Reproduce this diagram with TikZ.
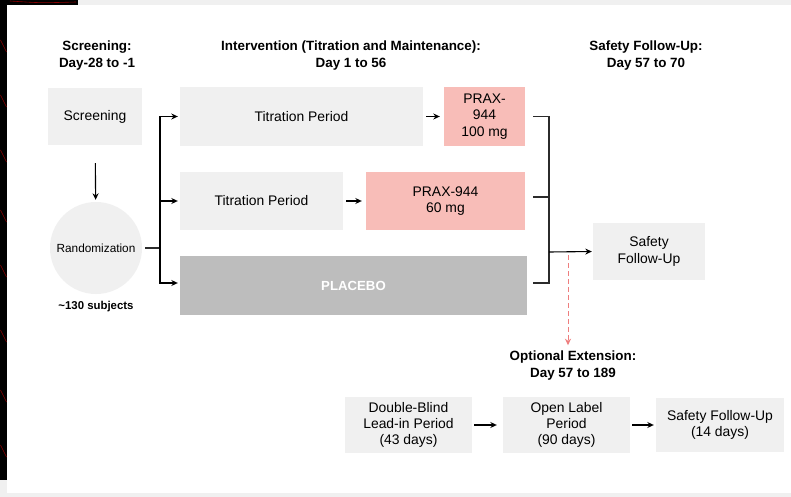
\documentclass[tikz,border=0pt]{standalone}
\usepackage{fontspec}
\setmainfont{Liberation Sans}
\usepackage{tikz}
\usetikzlibrary{arrows.meta, positioning, calc}
\definecolor{boxGray}{HTML}{F0F0F0}
\definecolor{doseRed}{HTML}{F8BDB8}
\definecolor{placeboGray}{HTML}{BDBDBD}
\definecolor{extRed}{HTML}{EE7E7E}
\definecolor{lineDark}{HTML}{2B2B2B}

\begin{document}
\begin{tikzpicture}[x=1pt, y=-1pt,
  every node/.style={text=black, font=\fontsize{13.9}{16.3}\selectfont},
  arr/.style={->, >={Stealth[length=6.5pt, width=6pt]}, line width=1.1pt, draw=black},
  ln/.style={line width=1.1pt, draw=lineDark},
  dasharr/.style={->, >={Stealth[length=6.5pt, width=6pt]}, line width=1pt,
                  draw=extRed, dash pattern=on 5pt off 3pt},
  phasebox/.style={fill=boxGray, inner sep=2pt, align=center},
  dosebox/.style={fill=doseRed, inner sep=2pt, align=center},
  header/.style={font=\fontsize{13.4}{17}\selectfont\bfseries, align=center}]

  \useasboundingbox (0,0) rectangle (791,497);

  %% ═══════════════════════════════════════════════════════════════
  %% FRAME (screenshot border)
  %% ═══════════════════════════════════════════════════════════════

  \fill[black!6] (0,0) rectangle (791,497);
  \fill[white] (7,5) rectangle (791,493);
  \fill[black] (0,0) rectangle (7,480);
  \fill[black] (0,0) rectangle (78,5);
  \foreach \yy in {40,95,150,210,265,330,390,445}
    \draw[red!55!black, line width=0.6pt] (0.5,\yy) .. controls (3,\yy+6) .. (6.5,\yy+12);
  \draw[red!55!black, line width=0.6pt] (10,1) .. controls (40,3) .. (76,2);

  %% ═══════════════════════════════════════════════════════════════
  %% COLUMN HEADERS
  %% ═══════════════════════════════════════════════════════════════

  \node[header] (hdscr) at (97,55.5) {Screening:\\Day-28 to -1};
  \node[header] (hdint) at (351,55.5) {Intervention (Titration and Maintenance):\\Day 1 to 56};
  \node[header] (hdsfu) at (646,55.5) {Safety Follow-Up:\\Day 57 to 70};

  %% ═══════════════════════════════════════════════════════════════
  %% SCREENING + RANDOMIZATION
  %% ═══════════════════════════════════════════════════════════════

  \node[phasebox, minimum width=94pt, minimum height=57pt] (scrn) at (95,116.5) {Screening};
  \node[circle, fill=boxGray, minimum size=92pt, inner sep=0pt,
        font=\fontsize{11.8}{14}\selectfont] (rand) at (96,248) {Randomization};
  \node[font=\fontsize{11.4}{13}\selectfont\bfseries, below=4pt of rand] (subj) {\textasciitilde130 subjects};

  \draw[arr, shorten <=18pt, shorten >=2pt] (scrn) -- (rand);

  %% ═══════════════════════════════════════════════════════════════
  %% TREATMENT ARMS
  %% ═══════════════════════════════════════════════════════════════

  \node[phasebox, minimum width=243pt, minimum height=59pt] (tit1) at (301.5,116.5) {Titration Period};
  \node[dosebox, minimum width=81pt, minimum height=59pt] (prax1) at (484.5,116.5) {PRAX-\\944\\100 mg};

  \node[phasebox, minimum width=163pt, minimum height=58pt] (tit2) at (261.5,201) {Titration Period};
  \node[dosebox, minimum width=159pt, minimum height=58pt] (prax2) at (445.5,201) {PRAX-944\\60 mg};

  \node[fill=placeboGray, minimum width=347pt, minimum height=59pt,
        text=white, font=\fontsize{13.2}{15}\selectfont\bfseries] (plac) at (353.5,285.5) {PLACEBO};

  \coordinate (split) at (160,248);
  \draw[ln, shorten <=3pt] (rand) -- (split);
  \draw[arr, shorten >=2pt] (split) |- (tit1.west);
  \draw[arr, shorten >=2pt] (split) |- (tit2.west);
  \draw[arr, shorten >=2pt] (split) |- ([yshift=2.5pt]plac.west);

  \draw[arr, shorten <=3pt, shorten >=4pt] (tit1) -- (prax1);
  \draw[arr, shorten <=3pt, shorten >=4pt] (tit2) -- (prax2);

  %% ═══════════════════════════════════════════════════════════════
  %% SAFETY FOLLOW-UP
  %% ═══════════════════════════════════════════════════════════════

  \node[phasebox, minimum width=112pt, minimum height=57pt] (sfu) at (649,251.5) {Safety\\Follow-Up};

  \coordinate (merge) at (549,252);
  \draw[ln, shorten <=8pt] (prax1.east) -| (merge);
  \draw[ln, shorten <=8pt] ([yshift=4pt]prax2.east) -| (merge);
  \draw[ln, shorten <=6pt] ([yshift=2.5pt]plac.east) -| (merge);
  \draw[arr, shorten >=1pt] (merge) -- (sfu.west);

  %% ═══════════════════════════════════════════════════════════════
  %% OPTIONAL EXTENSION
  %% ═══════════════════════════════════════════════════════════════

  \node[header] (hdext) at (573,365.5) {Optional Extension:\\Day 57 to 189};

  \coordinate (ext) at (568,254);
  \draw[dasharr, shorten <=1pt, shorten >=2pt] (ext) -- (ext |- hdext.north);

  \node[phasebox, minimum width=127pt, minimum height=56pt] (dbl) at (408.5,425)
      {Double-Blind\\Lead-in Period\\(43 days)};
  \node[phasebox, minimum width=127pt, minimum height=56pt] (opl) at (566.5,425)
      {Open Label\\Period\\(90 days)};
  \node[phasebox, minimum width=128pt, minimum height=54pt] (sfu2) at (720,425)
      {Safety Follow-Up\\(14 days)};

  \draw[arr, shorten <=2pt, shorten >=6pt] (dbl) -- (opl);
  \draw[arr, shorten <=2pt, shorten >=2pt] (opl) -- (sfu2);

\end{tikzpicture}
\end{document}
